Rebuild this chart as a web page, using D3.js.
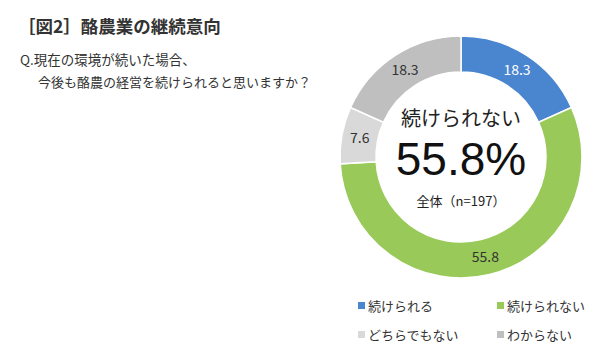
<!DOCTYPE html>
<html>
<head>
<meta charset="utf-8">
<script src="https://cdn.jsdelivr.net/npm/d3@7"></script>
<style>
  body { margin: 0; background: #fff; }
  text { font-family: "Noto Sans CJK JP", "Noto Sans", sans-serif; }
</style>
</head>
<body>
<svg id="chart" width="615" height="353"></svg>
<script>
// data
var categories = ["続けられる", "続けられない", "どちらでもない", "わからない"];
var values = [18.3, 55.8, 7.6, 18.3];
var colors = ["#4a86cf", "#99c958", "#d9d9d9", "#bfbfbf"];
var labelColors = ["#ffffff", "#333333", "#333333", "#333333"];

var svg = d3.select("svg");

// title + question
svg.append("text")
  .attr("x", 18).attr("y", 33)
  .attr("font-size", 17.5).attr("font-weight", "bold").attr("fill", "#333")
  .text("［図2］酪農業の継続意向");
svg.append("text")
  .attr("x", 20).attr("y", 65)
  .attr("font-size", 13.5).attr("fill", "#333")
  .text("Q.現在の環境が続いた場合、");
svg.append("text")
  .attr("x", 38).attr("y", 87)
  .attr("font-size", 13).attr("fill", "#333")
  .text("今後も酪農の経営を続けられると思いますか？");

// donut
var cx = 461, cy = 157, outerR = 121, innerR = 85;
var pie = d3.pie().sort(null).value(function(d) { return d; });
var arc = d3.arc().innerRadius(innerR).outerRadius(outerR);
var labelArc = d3.arc().innerRadius((innerR + outerR) / 2).outerRadius((innerR + outerR) / 2);

var g = svg.append("g").attr("transform", "translate(" + cx + "," + cy + ")");
var arcs = pie(values);

g.selectAll("path.slice")
  .data(arcs)
  .enter()
  .append("path")
  .attr("class", "slice")
  .attr("d", arc)
  .attr("fill", function(d, i) { return colors[i]; })
  .attr("stroke", "#fff")
  .attr("stroke-width", 1.5);

g.selectAll("text.lbl")
  .data(arcs)
  .enter()
  .append("text")
  .attr("class", "lbl")
  .attr("transform", function(d) { return "translate(" + labelArc.centroid(d) + ")"; })
  .attr("text-anchor", "middle")
  .attr("dy", "0.35em")
  .attr("font-size", 14)
  .attr("fill", function(d, i) { return labelColors[i]; })
  .text(function(d) { return d.data.toFixed(1); });

// centre text
g.append("text")
  .attr("y", -31).attr("text-anchor", "middle")
  .attr("font-size", 20).attr("fill", "#222")
  .text("続けられない");
g.append("text")
  .attr("y", 18).attr("text-anchor", "middle")
  .attr("font-size", 46).attr("fill", "#111")
  .style("font-family", "'Liberation Sans', Arial, sans-serif")
  .text(values[1].toFixed(1) + "%");
g.append("text")
  .attr("y", 49).attr("text-anchor", "middle")
  .attr("font-size", 13).attr("fill", "#222")
  .text("全体（n=197）");

// legend
var legendPos = [[358, 306], [497, 306], [358, 335], [497, 335]];
var legend = svg.selectAll("g.legend")
  .data(categories)
  .enter()
  .append("g")
  .attr("class", "legend")
  .attr("transform", function(d, i) { return "translate(" + legendPos[i][0] + "," + legendPos[i][1] + ")"; });
legend.append("rect")
  .attr("x", 0).attr("y", -4).attr("width", 7).attr("height", 7)
  .attr("fill", function(d, i) { return colors[i]; });
legend.append("text")
  .attr("x", 10).attr("dy", "0.35em")
  .attr("font-size", 13).attr("fill", "#333")
  .text(function(d) { return d; });
</script>
</body>
</html>
